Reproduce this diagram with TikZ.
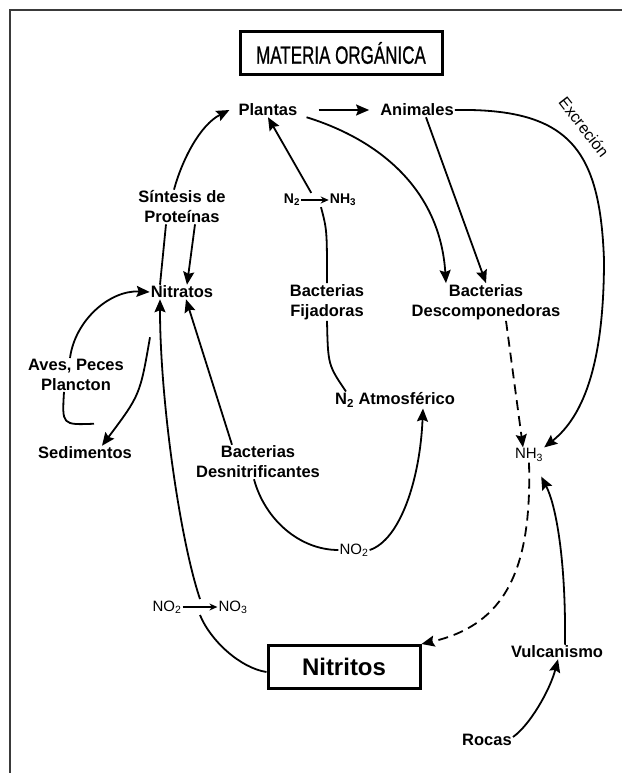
\documentclass[tikz,border=0pt]{standalone}
\usepackage{fontspec}
\setmainfont{Liberation Sans}
\usepackage{tikz}
\usetikzlibrary{arrows.meta,positioning}
\definecolor{framecolor}{HTML}{3A3A3A}

\begin{document}
\begin{tikzpicture}[x=1pt,y=-1pt,
    lbl/.style={font=\fontsize{16.5}{20}\selectfont\bfseries,align=center,inner sep=1pt},
    chem/.style={font=\fontsize{15}{17}\selectfont,inner sep=1pt},
    boxed/.style={draw,line width=3pt,inner sep=0pt},
    flow/.style={line width=1.8pt,-{Stealth[length=13pt,width=11pt,inset=2pt]}},
    link/.style={line width=1.8pt},
    dflow/.style={flow,dash pattern=on 10pt off 6pt},
    chemarrow/.style={line width=1.3pt,-{Stealth[length=8pt,width=7pt]}}]
    \useasboundingbox (0,0) rectangle (622,773);
    \draw[line width=1.5pt,framecolor] (10,773) -- (10,10) -- (622,10);

    % boxes
    \node[boxed,minimum width=202pt,minimum height=43pt,
          font=\fontsize{25}{27}\selectfont\addfontfeatures{FakeBold=1}]
      (materia) at (341,53) {\scalebox{0.68}[1]{MATERIA ORGÁNICA}};
    \node[boxed,minimum width=152pt,minimum height=43pt,font=\fontsize{24}{26}\selectfont\bfseries]
      (nitritos) at (344,667) {Nitritos};

    % labels
    \foreach \n/\x/\y/\t in {plantas/268/110/Plantas,animales/417/110/Animales,
                             nitratos/182/292/Nitratos,sedimentos/85/453/Sedimentos,
                             vulcan/557/652/Vulcanismo,rocas/487/740/Rocas} {
      \node[lbl] (\n) at (\x,\y) {\t};
    }
    \node[lbl] (sintesis) at (182,207) {Síntesis de\\Proteínas};
    \node[lbl] (fijadoras) at (327,302) {Bacterias\\Fijadoras};
    \node[lbl] (descomp) at (486,302) {Bacterias\\Descomponedoras};
    \node[lbl] (aves) at (76,375) {Aves, Peces\\Plancton};
    \node[lbl] (desnit) at (258,462) {Bacterias\\Desnitrificantes};
    \node[lbl] (atmos) at (395,400) {N\textsubscript{2} Atmosférico};
    \node[font=\fontsize{16}{18}\selectfont,rotate=-52] (excrecion) at (584,127) {Excreción};

    % chemistry
    \node[chem,font=\fontsize{14}{16}\selectfont\bfseries] (nx2) at (292,200) {N\textsubscript{2}};
    \node[chem,font=\fontsize{14}{16}\selectfont\bfseries] (nh3top) at (343,200) {NH\textsubscript{3}};
    \node[chem] (nh3) at (529,455) {NH\textsubscript{3}};
    \node[chem] (no2mid) at (354,550) {NO\textsubscript{2}};
    \node[chem] (no2low) at (167,607) {NO\textsubscript{2}};
    \node[chem] (no3low) at (233,607) {NO\textsubscript{3}};
    \draw[chemarrow] (nx2) -- (nh3top);
    \draw[chemarrow] (no2low) -- coordinate (oxid) (no3low);

    % cycle
    \draw[flow,shorten <=20pt,shorten >=10pt] (plantas) -- (animales);
    \draw[flow] ([xshift=-8pt]sintesis.north) .. controls (182,160) and (200,125) .. ([xshift=-8pt]plantas.west);
    \draw[link] ([xshift=-22pt]nitratos.north) -- ([xshift=-16pt]sintesis.south);
    \draw[flow] ([xshift=13pt]sintesis.south) -- ([xshift=5pt]nitratos.north);
    \draw[flow] ([xshift=10pt]nx2.north east) -- (plantas.south);
    \draw[link] ([xshift=-22pt]nh3top.south) .. controls (327,230) .. (fijadoras.north);
    \draw[link] (fijadoras.south) .. controls (328,365) .. ([xshift=12pt]atmos.north west);
    \draw[flow] ([xshift=8pt]plantas.south east) .. controls (380,140) and (440,190) .. ([xshift=-40pt]descomp.north);
    \draw[flow] ([xshift=9pt]animales.south) -- (descomp.north);
    \draw[flow] (animales.east) .. controls (570,108) and (600,150) .. (604,260)
                .. controls (604,360) and (585,415) .. (nh3.north east);
    \draw[dflow] ([xshift=20pt]descomp.south) -- ([xshift=-6pt]nh3.north);
    \draw[dflow] (nh3.south) .. controls (532,570) and (505,625) .. (nitritos.north east);
    \draw[flow] ([xshift=8pt]vulcan.north) .. controls (566,560) and (556,505) .. ([shift={(-3pt,-14pt)}]nh3.south east);
    \draw[flow] ([yshift=3pt]rocas.east) .. controls (530,725) and (550,690) .. ([xshift=1pt]vulcan.south);
    \draw[link] ([yshift=-5pt]nitritos.west) .. controls (240,668) and (210,640) .. ([yshift=-8pt]oxid);
    \draw[flow] ([yshift=8pt]oxid) .. controls (180,540) and (160,400) .. ([xshift=-22pt]nitratos.south);
    \draw[flow] ([xshift=-26pt]desnit.north) -- ([xshift=4pt]nitratos.south);
    \draw[link] ([xshift=-4pt]desnit.south) .. controls (265,520) and (300,550) .. (no2mid.west);
    \draw[flow] (no2mid.east) .. controls (400,540) and (420,480) .. ([xshift=28pt]atmos.south);
    \draw[flow] ([shift={(-32pt,-38pt)}]nitratos.south) .. controls (140,395) .. ([xshift=17pt]sedimentos.north);
    \draw[link] ([shift={(9pt,22pt)}]sedimentos.north) .. controls (62,425) .. ([xshift=-12pt]aves.south);
    \draw[flow] ([xshift=-6pt]aves.north) .. controls (75,320) and (110,290) .. (nitratos.west);
  \end{tikzpicture}
\end{document}
